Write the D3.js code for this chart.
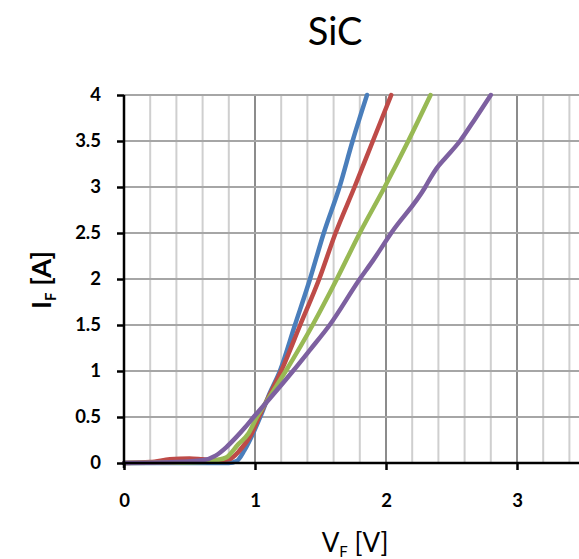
<!DOCTYPE html>
<html>
<head>
<meta charset="utf-8">
<script src="https://cdn.jsdelivr.net/npm/d3@7"></script>
<style>
  body { margin: 0; background: #fff; }
  svg { display: block; }
  text { font-family: Lato, "Open Sans", sans-serif; }
</style>
</head>
<body>
<svg class="chart" width="579" height="559"></svg>
<script>
// forward voltage V (x) and current A (y) for each curve
var blueV   = [0, 0.5, 0.8, 0.86, 0.92, 0.985, 1.04, 1.11, 1.19, 1.305, 1.42, 1.525, 1.645, 1.745, 1.855];
var blueI   = [0, 0, 0, 0.02, 0.14, 0.32, 0.5, 0.75, 1.0, 1.5, 2.0, 2.5, 3.0, 3.5, 4.0];
var redV    = [0, 0.2, 0.35, 0.5, 0.6, 0.7, 0.8, 0.885, 0.975, 1.03, 1.115, 1.2, 1.345, 1.49, 1.615, 1.76, 1.90, 2.04];
var redI    = [0, 0.01, 0.04, 0.05, 0.04, 0.03, 0.04, 0.14, 0.32, 0.5, 0.75, 1.0, 1.5, 2.0, 2.5, 3.0, 3.5, 4.0];
var greenV  = [0, 0.6, 0.7, 0.78, 0.87, 0.95, 1.015, 1.125, 1.235, 1.44, 1.625, 1.80, 1.99, 2.17, 2.34];
var greenI  = [0, 0.01, 0.03, 0.06, 0.2, 0.32, 0.5, 0.75, 1.0, 1.5, 2.0, 2.5, 3.0, 3.5, 4.0];
var purpleV = [0, 0.4, 0.6, 0.7, 0.78, 0.85, 0.92, 0.99, 1.10, 1.29, 1.42, 1.57, 1.80, 1.90, 2.04, 2.30, 2.34, 2.385, 2.45, 2.565, 2.68, 2.80];
var purpleI = [0, 0.01, 0.03, 0.08, 0.17, 0.27, 0.38, 0.5, 0.68, 1.0, 1.23, 1.5, 2.0, 2.2, 2.5, 3.0, 3.1, 3.2, 3.31, 3.5, 3.74, 4.0];

var xTicks = [0, 1, 2, 3];
var xTickLabels = ["0", "1", "2", "3"];
var yTicks = [0, 0.5, 1, 1.5, 2, 2.5, 3, 3.5, 4];
var yTickLabels = ["0", "0.5", "1", "1.5", "2", "2.5", "3", "3.5", "4"];
var xGrid = [0.2, 0.4, 0.6, 0.8, 1, 1.2, 1.4, 1.6, 1.8, 2, 2.2, 2.4, 2.6, 2.8, 3, 3.2, 3.4];

var series = [
    {name: "blue",   color: "#4a7ebb", v: blueV,   i: blueI},
    {name: "red",    color: "#be4b48", v: redV,    i: redI},
    {name: "green",  color: "#98b954", v: greenV,  i: greenI},
    {name: "purple", color: "#7d60a0", v: purpleV, i: purpleI}
];

var svg = d3.select(".chart");
var xScale = d3.scaleLinear().domain([0, 3.5]).range([124, 124 + 3.5 * 131]);
var yScale = d3.scaleLinear().domain([0, 4]).range([463, 95]);

// grid
svg.append("g")
    .selectAll("line")
    .data(xGrid)
    .enter().append("line")
      .attr("x1", function (d) { return xScale(d); })
      .attr("x2", function (d) { return xScale(d); })
      .attr("y1", yScale(0))
      .attr("y2", yScale(4))
      .attr("stroke", function (d) { return Number.isInteger(Math.round(d * 10) / 10) ? "#8c8c8c" : "#cfcfcf"; })
      .attr("stroke-width", 2);

svg.append("g")
    .selectAll("line")
    .data(yTicks.slice(1))
    .enter().append("line")
      .attr("x1", xScale(0))
      .attr("x2", 579)
      .attr("y1", function (d) { return yScale(d); })
      .attr("y2", function (d) { return yScale(d); })
      .attr("stroke", "#a6a6a6")
      .attr("stroke-width", 2);

// curves
var line = d3.line()
    .x(function (d) { return xScale(d[0]); })
    .y(function (d) { return yScale(d[1]); })
    .curve(d3.curveMonotoneX);

svg.append("g")
    .selectAll("path")
    .data(series)
    .enter().append("path")
      .attr("fill", "none")
      .attr("stroke", function (d) { return d.color; })
      .attr("stroke-width", 4.5)
      .attr("stroke-linejoin", "round")
      .attr("stroke-linecap", "round")
      .attr("d", function (d) { return line(d.v.map(function (v, k) { return [v, d.i[k]]; })); });

// axes
var xAxis = svg.append("g")
    .attr("transform", "translate(0," + yScale(0) + ")")
    .call(d3.axisBottom(xScale).tickValues(xTicks).tickSize(7).tickSizeOuter(0)
        .tickFormat(function (d, k) { return xTickLabels[k]; }).tickPadding(24));
xAxis.select(".domain").attr("d", "M" + xScale(0) + ",0H579");

var yAxis = svg.append("g")
    .attr("transform", "translate(" + xScale(0) + ",0)")
    .call(d3.axisLeft(yScale).tickValues(yTicks).tickSize(7).tickSizeOuter(0)
        .tickFormat(function (d, k) { return yTickLabels[k]; }).tickPadding(16));
yAxis.select(".domain").attr("d", "M0," + yScale(4) + "V" + (yScale(0) + 5));

svg.selectAll(".domain, .tick line")
    .attr("stroke", "#000")
    .attr("stroke-width", 2.5);
svg.selectAll(".tick text")
    .attr("fill", "#000")
    .style("font-family", "Lato, sans-serif")
    .style("font-size", "18.5px")
    .style("font-weight", "bold");

// titles
svg.append("text")
    .attr("x", 335)
    .attr("y", 45)
    .attr("text-anchor", "middle")
    .style("font-size", "38px")
    .text("SiC");

var xTitle = svg.append("text")
    .attr("x", 355)
    .attr("y", 552)
    .attr("text-anchor", "middle")
    .style("font-size", "26px");
xTitle.append("tspan").text("V");
xTitle.append("tspan").attr("dy", 5).style("font-size", "15px").text("F");
xTitle.append("tspan").attr("dy", -5).text(" [V]");

var yTitle = svg.append("text")
    .attr("transform", "translate(51,280) rotate(-90)")
    .attr("text-anchor", "middle")
    .style("font-size", "27px")
    .style("font-weight", "bold");
yTitle.append("tspan").text("I");
yTitle.append("tspan").attr("dy", 5).style("font-size", "15px").text("F");
yTitle.append("tspan").attr("dy", -5).text(" [A]");
</script>
</body>
</html>
